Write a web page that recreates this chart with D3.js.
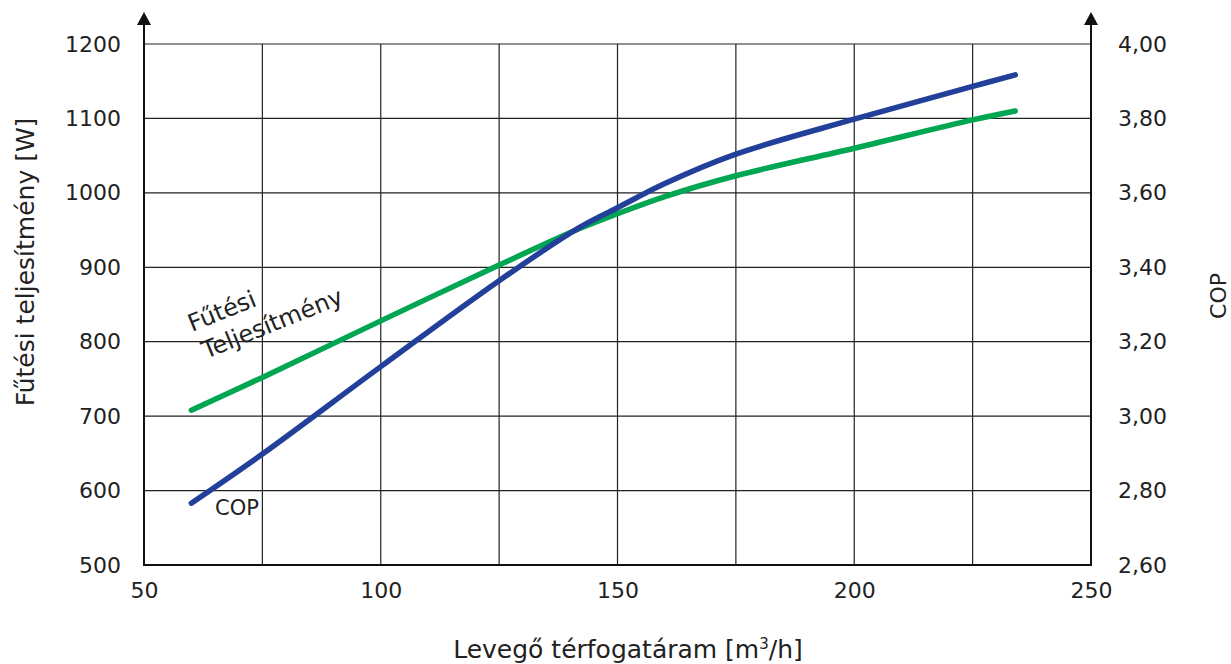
<!DOCTYPE html>
<html>
<head>
<meta charset="utf-8">
<script src="https://cdn.jsdelivr.net/npm/d3@7"></script>
<style>
  body { margin: 0; background: #fff; }
  svg text { font-family: "DejaVu Sans", sans-serif; font-weight: 400; fill: #222; }
</style>
</head>
<body>
<script>
// data
var flow = [60, 75, 100, 125, 142, 150, 160, 175, 200, 225, 234];
var heatOutput = [708, 752, 828, 903, 952, 972, 995, 1023, 1060, 1098, 1110];
var cop = [2.766, 2.898, 3.133, 3.364, 3.507, 3.560, 3.625, 3.704, 3.798, 3.886, 3.917];

var xTicks = [50, 100, 150, 200, 250];
var xGrid = [75, 100, 125, 150, 175, 200, 225];
var yTicks = [500, 600, 700, 800, 900, 1000, 1100, 1200];
var copTicks = [2.6, 2.8, 3.0, 3.2, 3.4, 3.6, 3.8, 4.0];

var W = 1231, H = 664;
var margin = {top: 44, right: 140, bottom: 99, left: 144},
    width = 1091 - margin.left,
    height = 565 - margin.top;

var svg = d3.select("body").append("svg")
  .attr("width", W)
  .attr("height", H);

var g = svg.append("g").attr("transform", "translate(" + margin.left + "," + margin.top + ")");

// scales
var x = d3.scaleLinear().domain([50, 250]).range([0, width]);
var y = d3.scaleLinear().domain([500, 1200]).range([height, 0]);
var y2 = d3.scaleLinear().domain([2.6, 4.0]).range([height, 0]);

// grid
g.selectAll(".vgrid").data(xGrid).enter().append("line")
  .attr("x1", function(d){ return x(d); })
  .attr("x2", function(d){ return x(d); })
  .attr("y1", 0).attr("y2", height)
  .attr("stroke", "#222").attr("stroke-width", 1.2);

g.selectAll(".hgrid").data(yTicks.slice(1)).enter().append("line")
  .attr("x1", 0).attr("x2", width)
  .attr("y1", function(d){ return y(d); })
  .attr("y2", function(d){ return y(d); })
  .attr("stroke", "#222").attr("stroke-width", 1.2);

// axes
var xAxis = d3.axisBottom(x).tickValues(xTicks).tickSize(0).tickPadding(17);
var yAxis = d3.axisLeft(y).tickValues(yTicks).tickSize(0).tickPadding(23)
  .tickFormat(d3.format("d"));
var y2Axis = d3.axisRight(y2).tickValues(copTicks).tickSize(0).tickPadding(27)
  .tickFormat(function(d){ return d3.format(".2f")(d).replace(".", ","); });

function styleAxis(sel){
  sel.select(".domain").remove();
  sel.selectAll("text").style("font-size", "22px").attr("fill", "#222");
}

g.append("g").attr("transform", "translate(0," + height + ")").call(xAxis).call(styleAxis)
  .selectAll("text").attr("dy", "0.71em");
g.append("g").call(yAxis).call(styleAxis);
g.append("g").attr("transform", "translate(" + width + ",0)").call(y2Axis).call(styleAxis);

// axis lines with arrows
g.append("line").attr("x1", 0).attr("x2", width).attr("y1", height).attr("y2", height)
  .attr("stroke", "#111").attr("stroke-width", 2.2);
[0, width].forEach(function(px){
  g.append("line").attr("x1", px).attr("x2", px).attr("y1", height + 1).attr("y2", -20)
    .attr("stroke", "#111").attr("stroke-width", 2);
  g.append("path")
    .attr("d", "M" + (px - 7) + "," + (-19) + "L" + px + "," + (-32) + "L" + (px + 7) + "," + (-19) + "Z")
    .attr("fill", "#111");
});

// lines
var heatLine = d3.line()
  .x(function(d, i){ return x(flow[i]); })
  .y(function(d){ return y(d); })
  .curve(d3.curveCatmullRom.alpha(0.5));

var copLine = d3.line()
  .x(function(d, i){ return x(flow[i]); })
  .y(function(d){ return y2(d); })
  .curve(d3.curveCatmullRom.alpha(0.5));

g.append("path").datum(heatOutput).attr("d", heatLine)
  .attr("fill", "none").attr("stroke", "#00a651").attr("stroke-width", 5.5)
  .attr("stroke-linecap", "round");

g.append("path").datum(cop).attr("d", copLine)
  .attr("fill", "none").attr("stroke", "#22409a").attr("stroke-width", 5.5)
  .attr("stroke-linecap", "round");

// curve labels
svg.append("text")
  .attr("transform", "translate(192,332) rotate(-22)")
  .style("font-size", "24px")
  .text("Fűtési");
svg.append("text")
  .attr("transform", "translate(206,359) rotate(-22)")
  .style("font-size", "24px")
  .text("Teljesítmény");
svg.append("text")
  .attr("x", 215).attr("y", 515)
  .style("font-size", "21px")
  .text("COP");

// axis titles
svg.append("text")
  .attr("x", 628).attr("y", 658)
  .attr("text-anchor", "middle")
  .style("font-size", "25px")
  .html("Levegő térfogatáram [m<tspan dy='-9' style='font-size:15px'>3</tspan><tspan dy='9'>/h]</tspan>");

svg.append("text")
  .attr("transform", "translate(34,262) rotate(-90)")
  .attr("text-anchor", "middle")
  .style("font-size", "25px")
  .text("Fűtési teljesítmény [W]");

svg.append("text")
  .attr("transform", "translate(1226,296) rotate(-90)")
  .attr("text-anchor", "middle")
  .style("font-size", "22px")
  .text("COP");
</script>
</body>
</html>
